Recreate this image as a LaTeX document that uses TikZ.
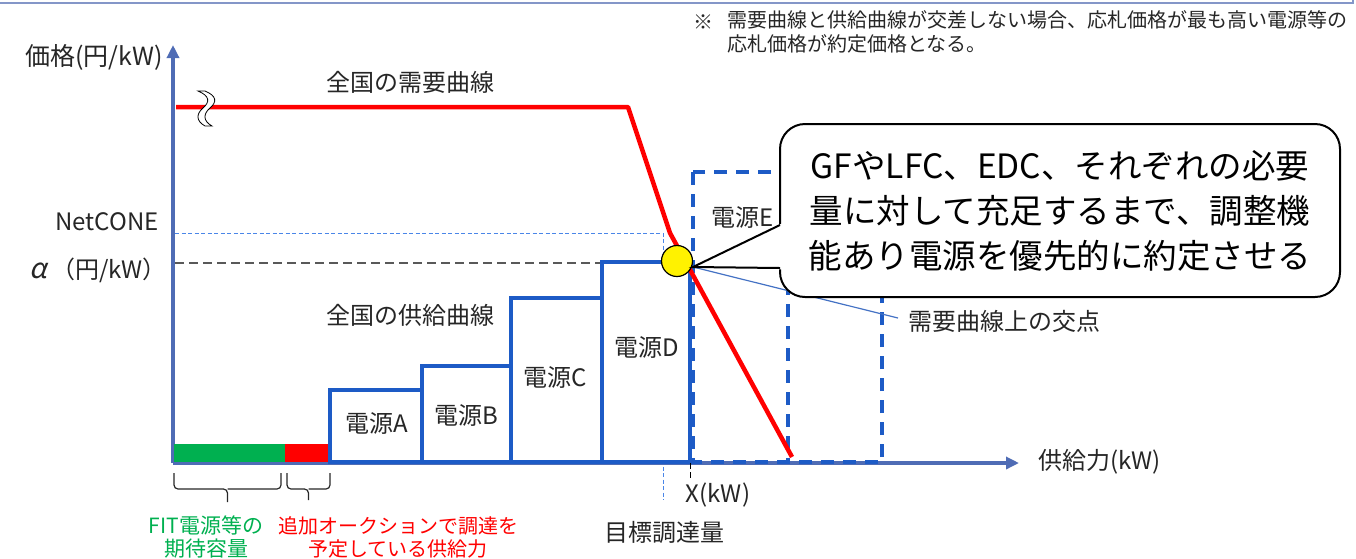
\documentclass[tikz,border=0pt]{standalone}
\usepackage{fontspec}
\setmainfont{Noto Sans CJK JP}
\newfontfamily\slantgreek[FakeSlant=0.22]{Noto Sans CJK JP}
\usetikzlibrary{arrows.meta}
\definecolor{axisc}{HTML}{4F6CB5}
\definecolor{supc}{HTML}{1D5BC6}
\definecolor{netc}{HTML}{4A86E8}
\definecolor{leadc}{HTML}{4472C4}
\definecolor{txt}{HTML}{262626}
\definecolor{grn}{HTML}{00B050}
\definecolor{framec}{HTML}{8496C8}
\definecolor{alphac}{HTML}{595959}
\begin{document}
\begin{tikzpicture}[x=1pt,y=-1pt,
  lbl/.style={text=txt, inner sep=0pt, font=\fontsize{24}{28}\selectfont},
  notelbl/.style={text=txt, inner sep=0pt, align=left, font=\fontsize{20}{24}\selectfont},
  axisline/.style={draw=axisc, line width=3.5pt, -{Triangle[length=13pt,width=12pt]}},
  supbox/.style={draw=supc, line width=3.5pt, fill=white},
  dashbox/.style={draw=supc, line width=3.5pt, dash pattern=on 13pt off 9pt},
  demand/.style={draw=red, line width=4.5pt, line join=round},
  bracel/.style={draw=txt, line width=1.2pt, rounded corners=4pt},
  botlbl/.style={inner sep=0pt, align=center, font=\fontsize{20}{23}\selectfont}
]
\useasboundingbox (0,0) rectangle (1356,558);

% frame remnant
\draw[framec, line width=2pt] (0,3) -- (1353,3) -- (1353,0);

% note
\node[notelbl, anchor=west] (kome) at (693,22) {※};
\node[notelbl, anchor=north west] (note) at (727,10) {需要曲線と供給曲線が交差しない場合、応札価格が最も高い電源等の\\応札価格が約定価格となる。};

% axes
\coordinate (O) at (173,463);
\coordinate (ytip) at (173,45);
\coordinate (xtip) at (1019,463);
\draw[axisline] (O) -- (ytip);
\draw[axisline] (O) -- (xtip);

% reference lines
\coordinate (net0) at (175,233);
\coordinate (net1) at (663,233);
\coordinate (net2) at (663,500);
\draw[netc, line width=1pt, dash pattern=on 4pt off 2.5pt] (net0) -- (net1) -- (net2);
\coordinate (al0) at (175,263);
\coordinate (al1) at (602,263);
\draw[alphac, line width=1.8pt, dash pattern=on 9pt off 5pt] (al0) -- (al1);

% bars
\fill[grn] (174,444) rectangle (285,462);
\fill[red] (285,444) rectangle (330,462);

% supply boxes
\draw[supbox] (330,390) rectangle (422,462);
\draw[supbox] (422,366) rectangle (511,462);
\draw[supbox] (511,298) rectangle (602,462);
\draw[supbox] (602,262) rectangle (690,462);
\draw[dashbox] (693,172) rectangle (882,462);
\draw[dashbox] (788,172) -- (788,462);

% demand curve
\coordinate (d0) at (176,107);
\coordinate (d1) at (628,107);
\coordinate (d2) at (670,233);
\coordinate (d3) at (792,457);
\draw[demand] (d0) -- (d1) -- (d2) -- (d3);

% break mark
\filldraw[fill=white, draw=black, line width=0.8pt]
  (198,91) .. controls (210,96) and (210,102) .. (203,108)
  .. controls (196,114) and (196,121) .. (205,126) -- (212,126)
  .. controls (203,121) and (203,114) .. (210,108)
  .. controls (217,102) and (217,96) .. (205,91) -- cycle;

% X tick
\coordinate (xt0) at (690,463);
\coordinate (xt1) at (690,479);
\draw[black, line width=1pt, dash pattern=on 6pt off 3pt] (xt0) -- (xt1);

% braces
\draw[bracel] (174,473) -- (174,489) -- (227.5,489) -- (227.5,502);
\draw[bracel] (281,473) -- (281,489) -- (227.5,489);
\draw[bracel] (287,473) -- (287,489) -- (308.5,489) -- (308.5,500);
\draw[bracel] (330,473) -- (330,489) -- (308.5,489);

% crossing point & leader
\coordinate (tip) at (693,267);
\coordinate (leadend) at (898,318);
\draw[leadc, line width=1.2pt] (tip) -- (leadend);
\node[lbl, anchor=west] (crosslbl) at (908,321) {需要曲線上の交点};
\node[circle, draw=black, fill=yellow, line width=1.2pt, minimum size=31pt, inner sep=0pt] (cross) at (677,261) {};

% callout
\node[draw=black, line width=2pt, fill=white, rounded corners=25pt,
      minimum width=560pt, minimum height=173pt, align=center, inner sep=0pt,
      font=\fontsize{33.5}{45}\selectfont] (callout) at (1060,210.5)
  {GFやLFC、EDC、それぞれの必要\\量に対して充足するまで、調整機\\能あり電源を優先的に約定させる};
\coordinate (tA) at (780,225);
\coordinate (tB) at (780,268);
\fill[white] (tip) -- (782,223.5) -- (782,269.5) -- cycle;
\draw[black, line width=2pt, line join=miter] (tA) -- (tip) -- (tB);

% labels
\node[lbl, anchor=east, font=\fontsize{25}{28}\selectfont] (ylab) at (163,57) {価格(円/kW)};
\node[lbl, anchor=east] (netlbl) at (159,222) {NetCONE};
\node[lbl, anchor=east] (alpha) at (167,270) {{\slantgreek\fontsize{28}{28}\selectfont α}\,（円/kW）};
\node[lbl] (demlbl) at (410,82) {全国の需要曲線};
\node[lbl] (suplbl) at (410,315) {全国の供給曲線};
\node[lbl] (srcA) at (377,423) {電源A};
\node[lbl] (srcB) at (466,415) {電源B};
\node[lbl] (srcC) at (555,377) {電源C};
\node[lbl] (srcD) at (647,347) {電源D};
\node[lbl] (srcE) at (743,217) {電源E};
\node[lbl, anchor=west] (xlab) at (1038,462) {供給力(kW)};
\node[lbl] (xk) at (718,495) {X(kW)};
\node[lbl] (target) at (664,532) {目標調達量};
\node[botlbl, text=grn, font=\fontsize{21}{23}\selectfont] (fit) at (206,537) {FIT電源等の\\期待容量};
\node[botlbl, text=red] (addl) at (398,537) {追加オークションで調達を\\予定している供給力};
\end{tikzpicture}
\end{document}
